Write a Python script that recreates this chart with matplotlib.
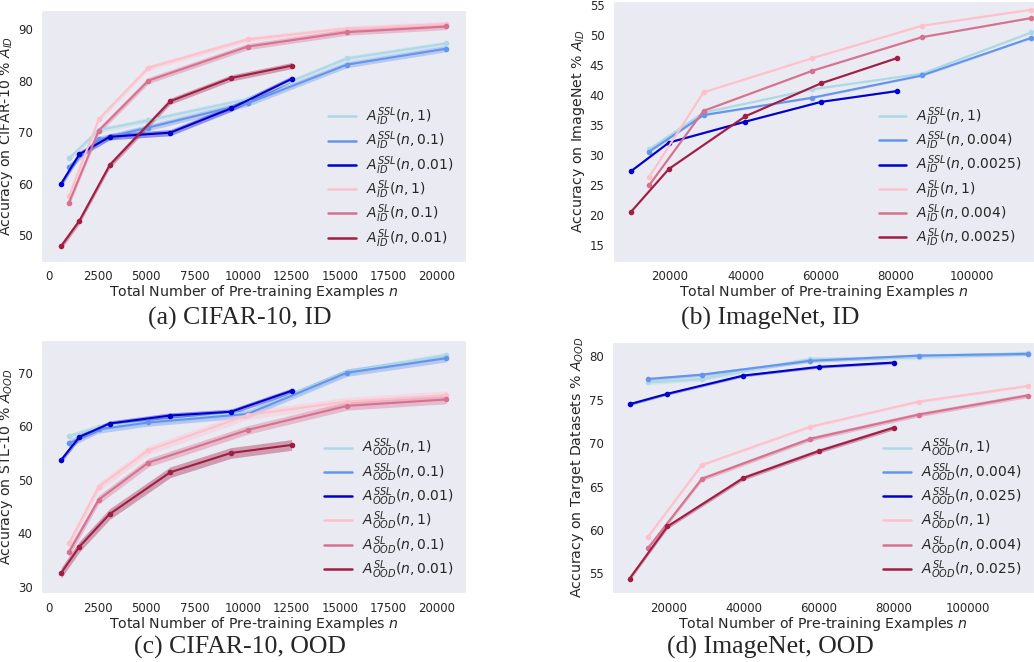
import matplotlib.pyplot as plt
from matplotlib.lines import Line2D
import seaborn as sns

sns.set_style("dark")
plt.rcParams['font.family'] = ['DejaVu Sans']
plt.rcParams['mathtext.fontset'] = 'dejavusans'

# ----------------------------
# Data
# ----------------------------
# CIFAR-10: fraction 0.01 uses a different n grid than 1 / 0.1
CIFAR_X_SMALL = [625, 1563, 3125, 6250, 9375, 12500]
CIFAR_X_LARGE = [1024, 2560, 5120, 10240, 15360, 20480]
CIFAR_FRACS = ["1", "0.1", "0.01"]

A_ID_SSL_1 = [64.9, 70.4, 72.3, 76.4, 84.3, 87.2]
A_ID_SSL_01 = [63.2, 68.6, 70.9, 75.6, 83.1, 86.2]
A_ID_SSL_001 = [60.0, 65.7, 69.1, 69.9, 74.6, 80.3]
A_ID_SL_1 = [57.6, 72.5, 82.5, 88.0, 90.1, 91.0]
A_ID_SL_01 = [56.3, 70.3, 80.0, 86.6, 89.4, 90.5]
A_ID_SL_001 = [47.9, 52.8, 63.6, 76.0, 80.5, 82.9]
A_ID_STD = [0.5, 0.6, 0.6, 0.5, 0.6, 0.6]

A_OOD_SSL_1 = [58.1, 59.9, 60.8, 62.6, 70.1, 73.3]
A_OOD_SSL_01 = [56.8, 59.4, 60.7, 62.3, 70.0, 72.7]
A_OOD_SSL_001 = [53.7, 58.0, 60.5, 62.0, 62.7, 66.6]
A_OOD_SL_1 = [38.1, 48.7, 55.5, 62.1, 64.6, 65.8]
A_OOD_SL_01 = [36.5, 46.3, 53.2, 59.3, 63.8, 65.0]
A_OOD_SL_001 = [32.6, 37.5, 43.6, 51.4, 55.0, 56.5]
A_OOD_STD = [0.5, 0.7, 0.5, 0.8, 0.8, 1.0]

# ImageNet: fraction 0.0025 / 0.025 uses a different n grid than 1 / 0.004
IN_X_SMALL = [9600, 19700, 40000, 60100, 80200]
IN_X_LARGE = [14500, 28900, 57800, 86800, 115900]

IN_ID_FRACS = ["1", "0.004", "0.0025"]
IN_ID_SSL_1 = [31.0, 37.1, 41.0, 43.6, 50.5]
IN_ID_SSL_0004 = [30.6, 36.7, 39.6, 43.3, 49.6]
IN_ID_SSL_00025 = [27.3, 32.1, 35.6, 38.9, 40.7]
IN_ID_SL_1 = [26.4, 40.5, 46.2, 51.6, 54.3]
IN_ID_SL_0004 = [25.0, 37.4, 44.1, 49.7, 52.9]
IN_ID_SL_00025 = [20.5, 27.7, 36.5, 42.0, 46.2]
IN_ID_STD = [0.15, 0.15, 0.1, 0.1, 0.1, 0.1]

IN_OOD_FRACS = ["1", "0.004", "0.025"]
IN_OOD_SSL_1 = [77.0, 77.4, 79.7, 79.9, 80.4]
IN_OOD_SSL_0004 = [77.4, 77.9, 79.5, 80.1, 80.3]
IN_OOD_SSL_0025 = [74.5, 75.7, 77.8, 78.8, 79.3]
IN_OOD_SL_1 = [59.2, 67.5, 71.9, 74.8, 76.6]
IN_OOD_SL_0004 = [57.9, 65.9, 70.5, 73.3, 75.5]
IN_OOD_SL_0025 = [54.4, 60.4, 66.0, 69.1, 71.8]
IN_OOD_STD = [0.25, 0.2, 0.15, 0.15, 0.25, 0.25]

COLORS = ["#add8e6", "#6495ed", "#0000cd", "#ffc0cb", "#d8708f", "#a21d44"]


def draw_panel(ax, xs, series, stds, sub, fracs, ylabel, xlim, ylim, xticks, yticks):
    kinds = ["SSL", "SSL", "SSL", "SL", "SL", "SL"]
    handles = []
    for i, ys in enumerate(series):
        x = xs[i]
        c = COLORS[i]
        lab = r"$A_{%s}^{%s}(n,%s)$" % (sub, kinds[i], fracs[i % 3])
        lo = [v - stds[i] for v in ys]
        hi = [v + stds[i] for v in ys]
        ax.fill_between(x, lo, hi, color=c, alpha=0.38, lw=0)
        ax.plot(x, ys, color=c, lw=1.5, marker="o", ms=3)
        handles.append(Line2D([], [], color=c, lw=1.8, label=lab))
    ax.set_xlim(*xlim)
    ax.set_ylim(*ylim)
    ax.set_xticks(xticks)
    ax.set_yticks(yticks)
    ax.tick_params(labelsize=8.5, pad=2.5)
    ax.set_xlabel("Total Number of Pre-training Examples $n$", fontsize=10.2, labelpad=0)
    ax.set_ylabel(ylabel, fontsize=10.2, labelpad=2)
    ax.legend(handles=handles, loc="lower right", fontsize=10, frameon=False,
              handlelength=2.0, handletextpad=0.7, labelspacing=0.12, borderaxespad=0.5)


fig = plt.figure(figsize=(10.34, 6.62), dpi=100)

ax_a = fig.add_axes([0.0397, 0.6042, 0.411, 0.3807])
ax_b = fig.add_axes([0.5926, 0.6047, 0.4074, 0.3943])
ax_c = fig.add_axes([0.0397, 0.1038, 0.411, 0.3826])
ax_d = fig.add_axes([0.5922, 0.1038, 0.4078, 0.3800])

cifar_xs = [CIFAR_X_LARGE, CIFAR_X_LARGE, CIFAR_X_SMALL] * 2
in_xs = [IN_X_LARGE, IN_X_LARGE, IN_X_SMALL] * 2
cifar_ticks = list(range(0, 20001, 2500))
in_ticks = list(range(20000, 100001, 20000))

draw_panel(ax_a, cifar_xs,
           [A_ID_SSL_1, A_ID_SSL_01, A_ID_SSL_001, A_ID_SL_1, A_ID_SL_01, A_ID_SL_001],
           A_ID_STD, "ID", CIFAR_FRACS, "Accuracy on CIFAR-10 % $A_{ID}$",
           (-412, 21495), (44.8, 93.7), cifar_ticks, [50, 60, 70, 80, 90])
draw_panel(ax_b, in_xs,
           [IN_ID_SSL_1, IN_ID_SSL_0004, IN_ID_SSL_00025, IN_ID_SL_1, IN_ID_SL_0004, IN_ID_SL_00025],
           IN_ID_STD, "ID", IN_ID_FRACS, "Accuracy on ImageNet % $A_{ID}$",
           (4800, 116600), (12.2, 55.8), in_ticks, list(range(15, 56, 5)))
draw_panel(ax_c, cifar_xs,
           [A_OOD_SSL_1, A_OOD_SSL_01, A_OOD_SSL_001, A_OOD_SL_1, A_OOD_SL_01, A_OOD_SL_001],
           A_OOD_STD, "OOD", CIFAR_FRACS, "Accuracy on STL-10 % $A_{OOD}$",
           (-412, 21495), (28.8, 76.1), cifar_ticks, [30, 40, 50, 60, 70])
draw_panel(ax_d, in_xs,
           [IN_OOD_SSL_1, IN_OOD_SSL_0004, IN_OOD_SSL_0025, IN_OOD_SL_1, IN_OOD_SL_0004, IN_OOD_SL_0025],
           IN_OOD_STD, "OOD", IN_OOD_FRACS, "Accuracy on Target Datasets % $A_{OOD}$",
           (4990, 117600), (52.7, 81.7), in_ticks, [55, 60, 65, 70, 75, 80])

cap = dict(fontsize=18.5, family=["Liberation Serif", "DejaVu Serif"], ha="center", va="center")
fig.text(240 / 1034, 1 - 318 / 662, "(a) CIFAR-10, ID", **cap)
fig.text(770 / 1034, 1 - 318 / 662, "(b) ImageNet, ID", **cap)
fig.text(240 / 1034, 1 - 647 / 662, "(c) CIFAR-10, OOD", **cap)
fig.text(770 / 1034, 1 - 647 / 662, "(d) ImageNet, OOD", **cap)

fig.savefig("out.png", dpi=100)
